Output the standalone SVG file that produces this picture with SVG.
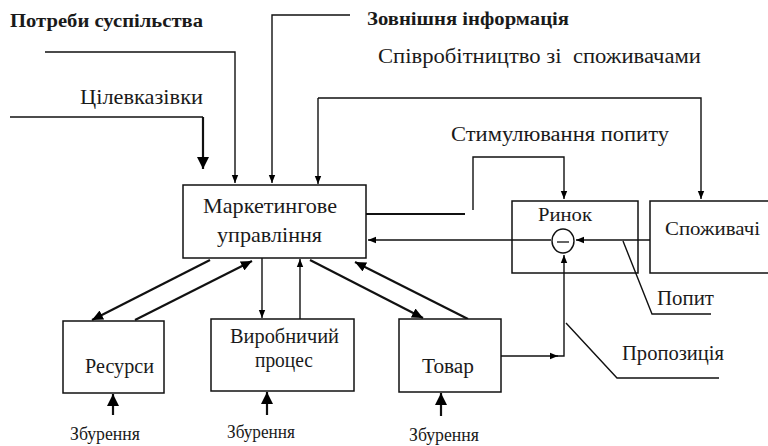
<svg xmlns="http://www.w3.org/2000/svg" width="768" height="446" viewBox="0 0 768 446">
<defs>
<marker id="sm" markerUnits="userSpaceOnUse" markerWidth="8" markerHeight="8" viewBox="0 0 8 8" refX="8" refY="4" orient="auto"><path d="M0,0.8 L8,4 L0,7.2 Z" fill="#000"/></marker>
<marker id="md" markerUnits="userSpaceOnUse" markerWidth="11" markerHeight="10" viewBox="0 0 11 10" refX="11" refY="5" orient="auto"><path d="M0,0 L11,5 L0,10 Z" fill="#000"/></marker>
<marker id="bg" markerUnits="userSpaceOnUse" markerWidth="12" markerHeight="12" viewBox="0 0 12 12" refX="12" refY="6" orient="auto"><path d="M0,0 L12,6 L0,12 Z" fill="#000"/></marker>
</defs>
<style>
text{font-family:'Liberation Serif','Times New Roman',serif;fill:#1a1a1a;}
.b{font-weight:bold;font-size:18px;}
.s18{font-size:18px;}
.s19{font-size:19px;}
.s20{font-size:20px;}
.s21{font-size:21px;}
.s22{font-size:22px;}
.box{fill:#fff;stroke:#111;stroke-width:1.5;}
.ln{fill:none;stroke:#111;stroke-width:1.4;}
.th{fill:none;stroke:#111;stroke-width:2.2;}
</style>
<rect width="768" height="446" fill="#fff"/>
<g id="connectors">
<path class="ln" d="M45,52 H235 V183" marker-end="url(#sm)"/>
<path class="ln" d="M350,15 H272 V183" marker-end="url(#sm)"/>
<path class="ln" d="M10,117 H203"/>
<path class="th" d="M203,117 V169" marker-end="url(#bg)"/>
<path class="ln" d="M318,98 H701 V199" marker-end="url(#sm)"/>
<path class="ln" d="M318,98 V184" marker-end="url(#sm)"/>
<path class="th" d="M366,214 H465"/>
<path class="ln" d="M473,210 V157 H564 V199" marker-end="url(#sm)"/>
<path class="ln" d="M551,240 H368" marker-end="url(#sm)"/>
<path class="ln" d="M650,240 H576" marker-end="url(#sm)"/>
<path class="ln" d="M501,356 H558" marker-end="url(#sm)"/>
<path class="ln" d="M556,356 H564 V255" marker-end="url(#sm)"/>
<path class="ln" d="M623,241 L652,314 H711"/>
<path class="ln" d="M566,323 L617,378 H719"/>
<path class="th" d="M210,260 L92,320" marker-end="url(#md)"/>
<path class="th" d="M135,320 L252,261" marker-end="url(#md)"/>
<path class="ln" d="M262,258 V318" marker-end="url(#sm)"/>
<path class="ln" d="M300,319 V259" marker-end="url(#sm)"/>
<path class="th" d="M310,260 L423,318" marker-end="url(#md)"/>
<path class="th" d="M468,319 L355,262" marker-end="url(#md)"/>
<path class="th" d="M113,415 V394" marker-end="url(#bg)"/>
<path class="th" d="M267,415 V392" marker-end="url(#bg)"/>
<path class="th" d="M441,416 V393" marker-end="url(#bg)"/>
</g>
<g id="labels">
<text class="b" x="10" y="27" textLength="193" lengthAdjust="spacingAndGlyphs">Потреби суспільства</text>
<text class="b" x="367" y="25" textLength="202" lengthAdjust="spacingAndGlyphs">Зовнішня інформація</text>
<text class="s20" x="378" y="63" textLength="323" lengthAdjust="spacingAndGlyphs" xml:space="preserve">Співробітництво зі  споживачами</text>
<text class="s21" x="80" y="104" textLength="123" lengthAdjust="spacingAndGlyphs">Цілевказівки</text>
<text class="s20" x="451" y="141" textLength="218" lengthAdjust="spacingAndGlyphs">Стимулювання попиту</text>
<text class="s20" x="657" y="305" textLength="57" lengthAdjust="spacingAndGlyphs">Попит</text>
<text class="s20" x="622" y="360" textLength="102" lengthAdjust="spacingAndGlyphs">Пропозиція</text>
<text class="s18" x="70" y="440" textLength="70" lengthAdjust="spacingAndGlyphs">Збурення</text>
<text class="s18" x="227" y="438" textLength="68" lengthAdjust="spacingAndGlyphs">Збурення</text>
<text class="s18" x="409" y="441" textLength="70" lengthAdjust="spacingAndGlyphs">Збурення</text>
</g>
<g id="marketing">
<rect class="box" x="183" y="185" width="183" height="73"/>
<text class="s22" x="203" y="213" textLength="134" lengthAdjust="spacingAndGlyphs">Маркетингове</text>
<text class="s22" x="217" y="242" textLength="105" lengthAdjust="spacingAndGlyphs">управління</text>
</g>
<g id="market">
<rect x="512" y="201" width="126" height="72" fill="none" stroke="#111" stroke-width="1.5"/>
<text class="s18" x="538" y="221" textLength="54" lengthAdjust="spacingAndGlyphs">Ринок</text>
</g>
<g id="comparator">
<ellipse cx="563" cy="241" rx="11" ry="12" fill="#fff" stroke="#111" stroke-width="1.4"/>
<line x1="557" y1="242" x2="569" y2="242" stroke="#111" stroke-width="1.3"/>
</g>
<g id="consumers">
<rect class="box" x="650" y="201" width="120" height="72"/>
<text class="s19" x="665" y="235" textLength="95" lengthAdjust="spacingAndGlyphs">Споживачі</text>
</g>
<g id="resources">
<rect class="box" x="63" y="321" width="101" height="72"/>
<text class="s20" x="85" y="373" textLength="69" lengthAdjust="spacingAndGlyphs">Ресурси</text>
</g>
<g id="production">
<rect class="box" x="211" y="319" width="143" height="72"/>
<text class="s20" x="230" y="343" textLength="109" lengthAdjust="spacingAndGlyphs">Виробничий</text>
<text class="s20" x="255" y="367" textLength="58" lengthAdjust="spacingAndGlyphs">процес</text>
</g>
<g id="goods">
<rect class="box" x="399" y="319" width="102" height="73"/>
<text class="s20" x="422" y="373" textLength="52" lengthAdjust="spacingAndGlyphs">Товар</text>
</g>
</svg>
